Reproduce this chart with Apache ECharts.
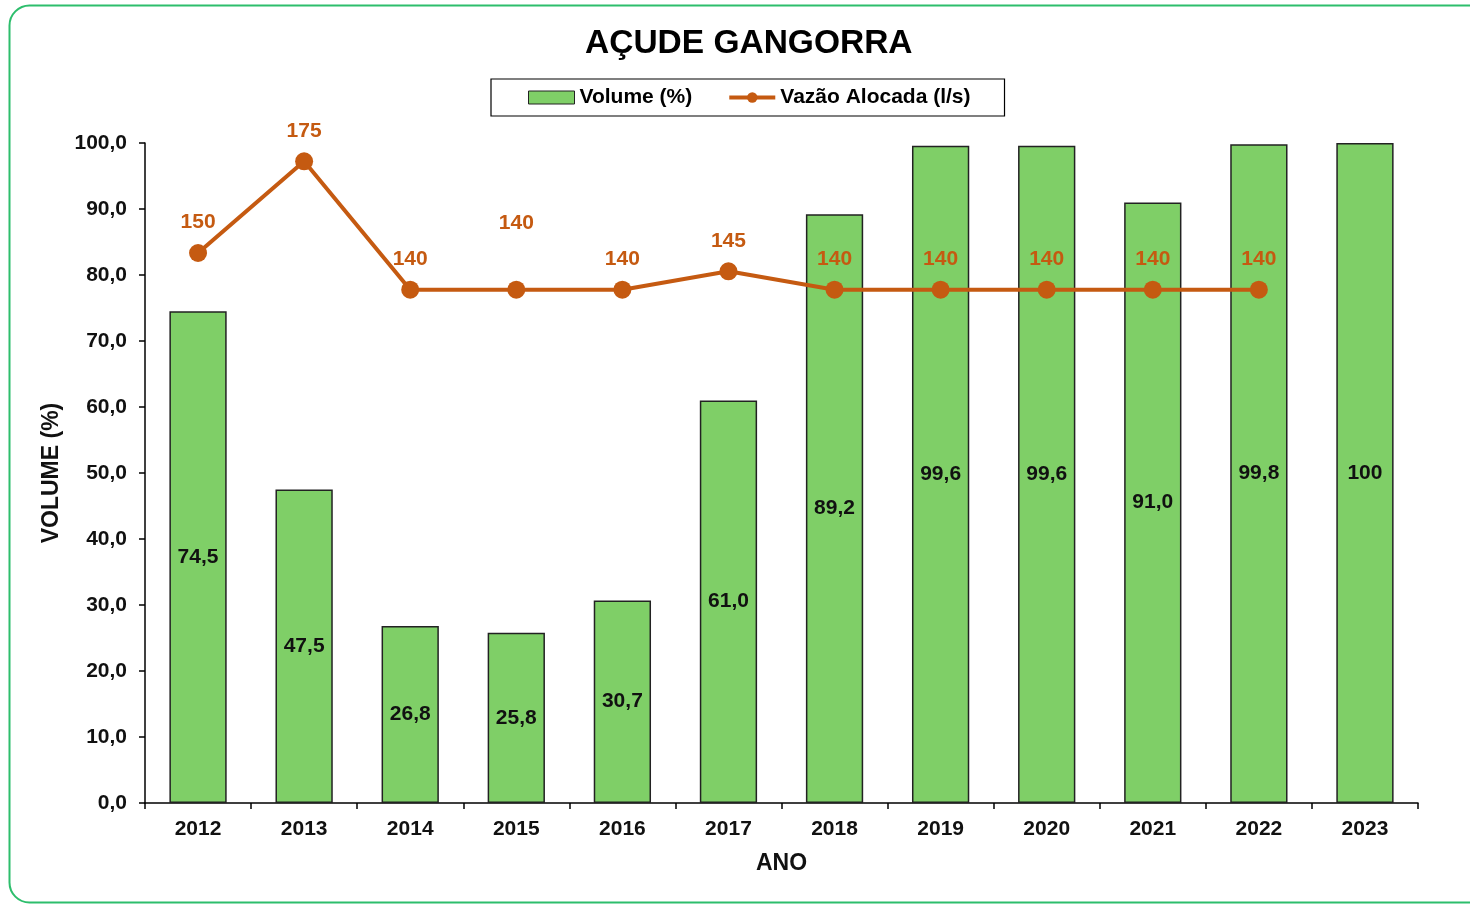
<!DOCTYPE html>
<html>
<head>
<meta charset="utf-8">
<script src="https://cdn.jsdelivr.net/npm/echarts@6/dist/echarts.min.js"></script>
<style>
html,body{margin:0;padding:0;background:#fff;}
#chart{width:1470px;height:905px;}
</style>
</head>
<body>
<div id="chart"></div>
<script>
const years = ['2012','2013','2014','2015','2016','2017','2018','2019','2020','2021','2022','2023'];
const volume = [74.5, 47.5, 26.8, 25.8, 30.7, 61.0, 89.2, 99.6, 99.6, 91.0, 99.8, 100];
const vazao = [150, 175, 140, 140, 140, 145, 140, 140, 140, 140, 140, null];
const yTicks = [0, 10, 20, 30, 40, 50, 60, 70, 80, 90, 100];

const orange = '#C55A11';
const green = '#7FCF67';
const font = 'Liberation Sans, Arial, sans-serif';

const lineData = vazao.map((v, i) => {
  const item = { value: v };
  if (years[i] === '2015') item.label = { distance: 47 };
  return item;
});

const chart = echarts.init(document.getElementById('chart'));
chart.setOption({
  animation: false,
  backgroundColor: '#fff',
  graphic: [{
    type: 'rect',
    shape: { x: 9.5, y: 5.5, width: 1500, height: 897, r: 20 },
    style: { fill: 'none', stroke: '#2DBE6C', lineWidth: 2 },
    z: -1
  }],
  title: {
    text: 'AÇUDE GANGORRA',
    left: 580,
    top: 22,
    textStyle: { fontFamily: font, fontWeight: 'bold', fontSize: 33.5, color: '#000' }
  },
  legend: {
    left: 491,
    top: 79,
    padding: [8, 34, 8, 37],
    borderColor: '#000',
    borderWidth: 1.2,
    borderRadius: 0,
    itemGap: 35,
    itemWidth: 46,
    itemHeight: 13,
    textStyle: { fontFamily: font, fontWeight: 'bold', fontSize: 21, color: '#000' },
    data: [
      { name: 'Volume (%)', icon: 'rect', itemStyle: { color: green, borderColor: '#222', borderWidth: 1 } },
      { name: 'Vazão Alocada (l/s)', lineStyle: { width: 4, color: orange } }
    ]
  },
  grid: { left: 145, right: 52, top: 143, bottom: 102 },
  xAxis: {
    type: 'category',
    data: years,
    name: 'ANO',
    nameLocation: 'middle',
    nameGap: 49,
    nameTextStyle: { fontFamily: font, fontWeight: 'bold', fontSize: 23, color: '#111' },
    axisLine: { lineStyle: { color: '#000', width: 1.5 } },
    axisTick: { show: true, length: 6, lineStyle: { color: '#000', width: 1.5 } },
    axisLabel: { fontFamily: font, fontWeight: 'bold', fontSize: 21, color: '#111', margin: 16 }
  },
  yAxis: [{
    type: 'value',
    min: 0,
    max: 100,
    interval: 10,
    name: 'VOLUME (%)',
    nameLocation: 'middle',
    nameGap: 81,
    nameTextStyle: { fontFamily: font, fontWeight: 'bold', fontSize: 23, color: '#111' },
    splitLine: { show: false },
    axisLine: { show: true, lineStyle: { color: '#000', width: 1.5 } },
    axisTick: { show: true, length: 6, lineStyle: { color: '#000', width: 1.5 } },
    axisLabel: {
      fontFamily: font, fontWeight: 'bold', fontSize: 21, color: '#111', margin: 18,
      formatter: v => v.toFixed(1).replace('.', ',')
    }
  }, {
    type: 'value',
    min: 0,
    max: 180,
    show: false,
    splitLine: { show: false }
  }],
  series: [{
    name: 'Volume (%)',
    type: 'bar',
    data: volume,
    barWidth: '54%',
    itemStyle: { color: green, borderColor: '#222', borderWidth: 1.5 },
    label: {
      show: true,
      position: 'inside',
      fontFamily: font, fontWeight: 'bold', fontSize: 21, color: '#111',
      formatter: p => (p.value === 100 ? '100' : p.value.toFixed(1).replace('.', ','))
    },
    z: 2
  }, {
    name: 'Vazão Alocada (l/s)',
    type: 'line',
    yAxisIndex: 1,
    data: lineData,
    color: orange,
    lineStyle: { color: orange, width: 4 },
    itemStyle: { color: orange },
    symbol: 'circle',
    symbolSize: 18,
    label: {
      show: true,
      position: 'top',
      distance: 11,
      fontFamily: font, fontWeight: 'bold', fontSize: 21, color: orange
    },
    z: 3
  }]
});
</script>
</body>
</html>
